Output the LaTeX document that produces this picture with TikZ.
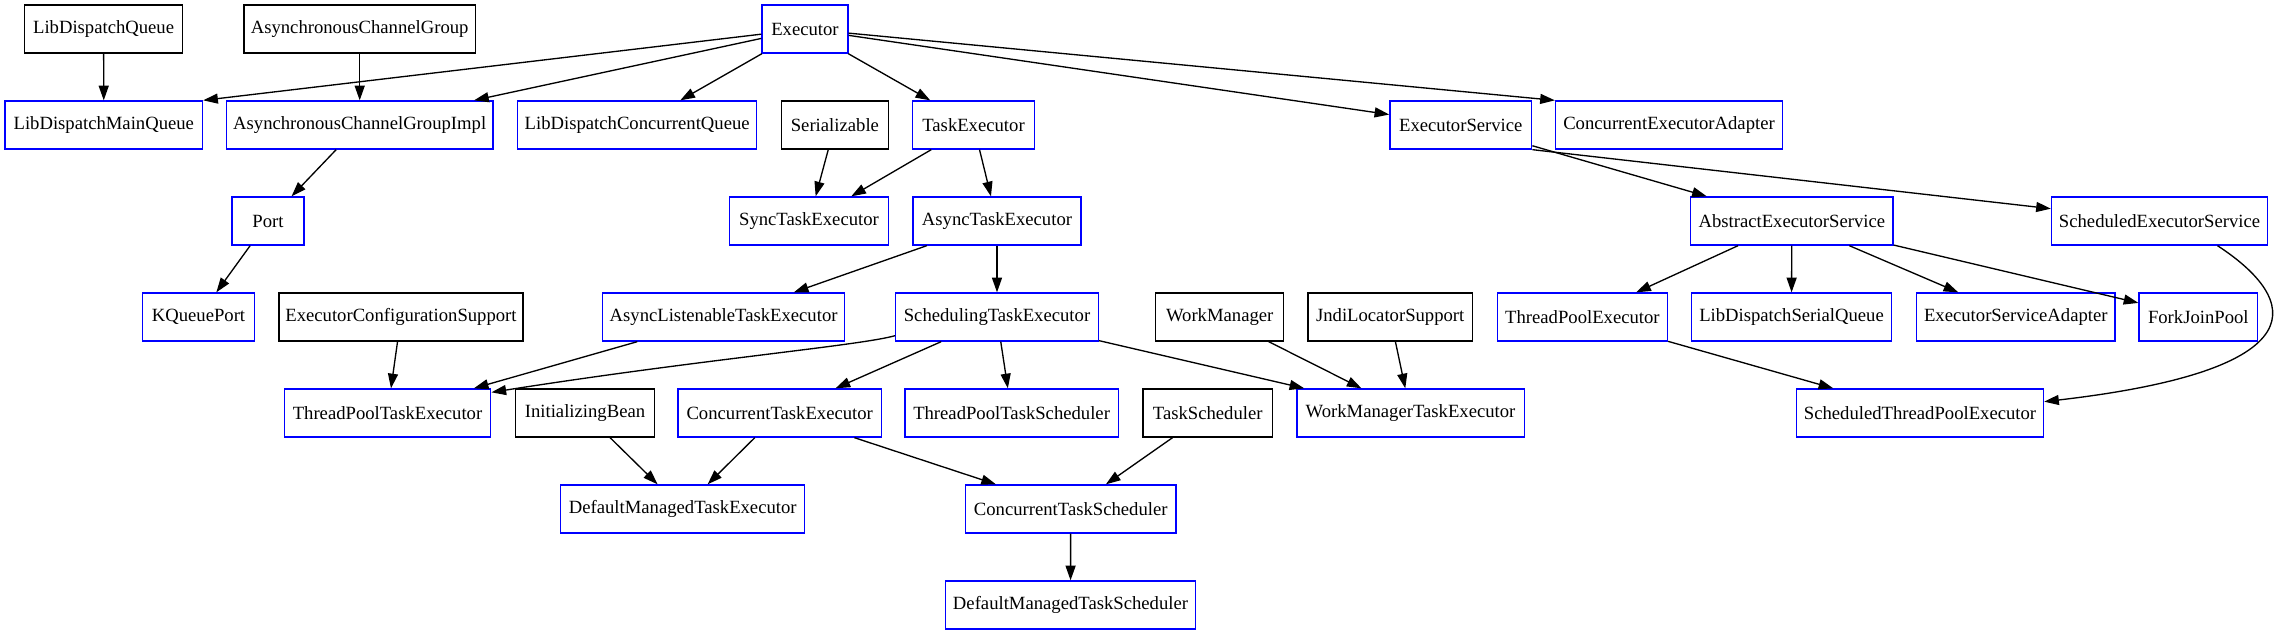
\documentclass[tikz,border=0pt]{standalone}
\usepackage{fontspec}
\setmainfont{Liberation Serif}
\usetikzlibrary{arrows.meta}
\begin{document}
\begin{tikzpicture}[x=0.75pt,y=-0.75pt,
  box/.style={draw, line width=1pt, minimum height=36pt, inner sep=0pt,
    font=\fontsize{14}{16}\selectfont, minimum width={#1*0.75pt}},
  cls/.style={box=#1, draw=blue},
  ext/.style={box=#1, draw=black},
  edge/.style={line width=1pt, -{Triangle[length=11pt,width=7.5pt]}}]
\fill[white] (0,0) rectangle (2284,635);
\useasboundingbox (0,0) rectangle (2284,635);
% row 1
\node[ext=158] (lq) at (103.6,29) {LibDispatchQueue};
\node[ext=231.6] (acg) at (359.7,29) {AsynchronousChannelGroup};
\node[cls=86] (ex) at (805,29) {Executor};
% row 2
\node[cls=197.5] (lmq) at (103.8,125) {LibDispatchMainQueue};
\node[cls=266.3] (acgi) at (359.7,125) {AsynchronousChannelGroupImpl};
\node[cls=238.8] (lcq) at (637.2,125) {LibDispatchConcurrentQueue};
\node[ext=106.8] (ser) at (834.9,125) {Serializable};
\node[cls=122.3] (te) at (973.5,125) {TaskExecutor};
\node[cls=141.8] (es) at (1460.8,125) {ExecutorService};
\node[cls=227] (cea) at (1669,125) {ConcurrentExecutorAdapter};
% row 3
\node[cls=72] (port) at (268,221) {Port};
\node[cls=158.4] (ste) at (809,221) {SyncTaskExecutor};
\node[cls=168] (ate) at (997,221) {AsyncTaskExecutor};
\node[cls=202.5] (aes) at (1791.8,221) {AbstractExecutorService};
\node[cls=216] (ses) at (2159.5,221) {ScheduledExecutorService};
% row 4
\node[cls=112.2] (kqp) at (198.5,317) {KQueuePort};
\node[ext=243.9] (ecs) at (401,317) {ExecutorConfigurationSupport};
\node[cls=242] (alte) at (723.6,317) {AsyncListenableTaskExecutor};
\node[cls=202.6] (sch) at (997,317) {SchedulingTaskExecutor};
\node[ext=128] (wm) at (1219.7,317) {WorkManager};
\node[ext=164.7] (jls) at (1390.2,317) {JndiLocatorSupport};
\node[cls=170.2] (tpe) at (1582.4,317) {ThreadPoolExecutor};
\node[cls=200] (lsq) at (1791.5,317) {LibDispatchSerialQueue};
\node[cls=198.5] (esa) at (2015.8,317) {ExecutorServiceAdapter};
\node[cls=118.5] (fjp) at (2198.3,317) {ForkJoinPool};
% row 5
\node[cls=206.6] (tpte) at (387.5,413) {ThreadPoolTaskExecutor};
\node[ext=139.3] (ib) at (585,413) {InitializingBean};
\node[cls=203.4] (cte) at (779.7,413) {ConcurrentTaskExecutor};
\node[cls=213.5] (tpts) at (1011.6,413) {ThreadPoolTaskScheduler};
\node[ext=129.2] (ts) at (1207.7,413) {TaskScheduler};
\node[cls=227.3] (wmte) at (1410.5,413) {WorkManagerTaskExecutor};
\node[cls=247] (stpe) at (1920,413) {ScheduledThreadPoolExecutor};
% row 6
\node[cls=244] (dmte) at (682.7,509) {DefaultManagedTaskExecutor};
\node[cls=210.7] (cts) at (1070.7,509) {ConcurrentTaskScheduler};
% row 7
\node[cls=250.3] (dmts) at (1070.5,605) {DefaultManagedTaskScheduler};
% edges
\draw[edge] (lq) -- (lmq);
\draw[edge] (acg) -- (acgi);
\draw[edge] (ex) -- (lmq.north east);
\draw[edge] (ex) -- (acgi);
\draw[edge] (ex) -- (lcq);
\draw[edge] (ex) -- (te);
\draw[edge] (ex) -- (es);
\draw[edge] (ex) -- (cea.north west);
\draw[edge] (acgi) -- (port);
\draw[edge] (port) -- (kqp);
\draw[edge] (ser) -- (ste);
\draw[edge] (te) -- (ste);
\draw[edge] (te) -- (ate);
\draw[edge] (es) -- (aes);
\draw[edge] (es.south east) -- (ses);
\draw[edge] (ate) -- (alte);
\draw[edge] (ate) -- (sch);
\draw[edge] (aes) -- (tpe);
\draw[edge] (aes) -- (lsq);
\draw[edge] (aes) -- (esa);
\draw[edge] (aes) -- (fjp);
\draw[edge] ([xshift=43.5pt]ses.south) .. controls +(82.5,54) and +(276.5,-32) .. ([yshift=8.5pt]stpe.east);
\draw[edge] (tpe) -- (stpe);
\draw[edge] (ecs) -- (tpte);
\draw[edge] (alte) -- (tpte);
\draw[edge] ([yshift=4.5pt]sch.south west) .. controls +(-35,10) and +(207.7,-32.7) .. ([yshift=-3pt]tpte.north east);
\draw[edge] (sch) -- (cte);
\draw[edge] (sch) -- (tpts);
\draw[edge] (sch) -- (wmte);
\draw[edge] (wm) -- (wmte);
\draw[edge] (jls) -- (wmte);
\draw[edge] (ib) -- (dmte);
\draw[edge] (cte) -- (dmte);
\draw[edge] (cte) -- (cts);
\draw[edge] (ts) -- (cts);
\draw[edge] (cts) -- (dmts);
\end{tikzpicture}
\end{document}
